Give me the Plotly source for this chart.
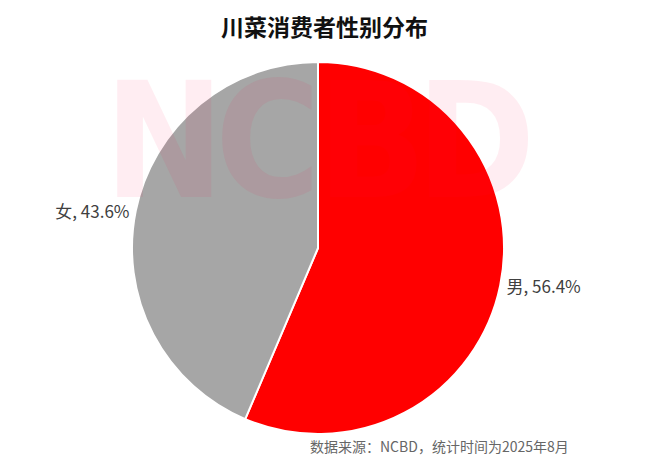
import plotly.graph_objects as go

labels = ["男", "女"]
values = [56.4, 43.6]
colors = ["#FF0000", "#A6A6A6"]
watermark_letters = ["N", "C", "B", "D"]

W, H = 660, 466
cx, cy, r = 310, 240, 186

fig = go.Figure()
fig.add_trace(go.Pie(
    labels=labels,
    values=values,
    sort=False,
    direction="clockwise",
    rotation=0,
    marker=dict(colors=colors, line=dict(color="white", width=2)),
    textposition="outside",
    texttemplate="%{label}, %{value:.1f}%",
    textfont=dict(family="Noto Sans CJK SC, Noto Sans", size=17, color="#404040"),
    showlegend=False,
    hoverinfo="label+value",
    domain=dict(x=[(cx - r) / W, (cx + r) / W], y=[(H - cy - r) / H, (H - cy + r) / H]),
))

annotations = []
for i, ch in enumerate(watermark_letters):
    annotations.append(dict(
        text=ch, x=(156 + i * 104) / W, y=1 - 133 / H, xref="paper", yref="paper",
        showarrow=False, xanchor="center", yanchor="middle",
        font=dict(family="DejaVu Sans Condensed, Liberation Sans Narrow, DejaVu Sans",
                  size=160, weight=900, color="rgba(255,0,70,0.07)")))

annotations += [
    dict(text="<b>川菜消费者性别分布</b>", x=316 / W, y=1, xref="paper", yref="paper",
         showarrow=False, font=dict(family="Noto Sans CJK SC", size=23, color="#111111"),
         xanchor="center", yanchor="top", borderpad=0),
    dict(text="数据来源：NCBD，统计时间为2025年8月", x=563 / W, y=1 - 438 / H,
         xref="paper", yref="paper", showarrow=False, xanchor="right", yanchor="middle",
         font=dict(family="Noto Sans CJK SC", size=14, color="#666666")),
]

fig.update_layout(
    width=W, height=H,
    margin=dict(l=0, r=0, t=0, b=0),
    paper_bgcolor="white",
    plot_bgcolor="white",
    annotations=annotations,
)

fig.write_html("out.html")
